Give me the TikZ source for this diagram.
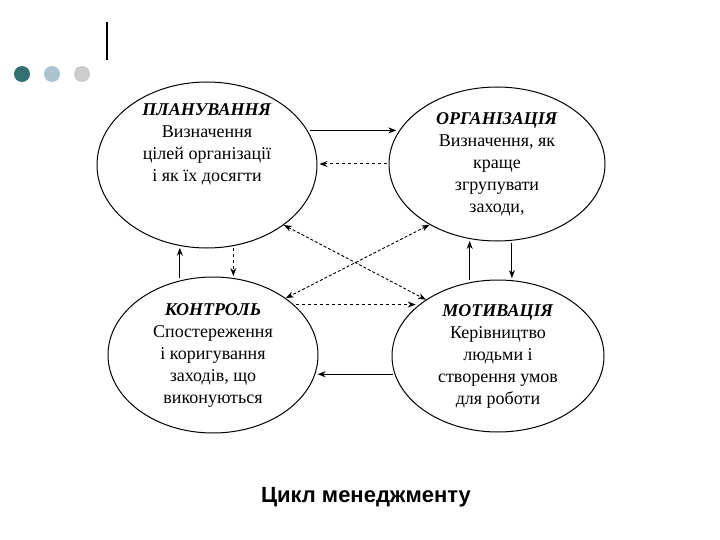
\documentclass[tikz,border=0pt]{standalone}
\usepackage{fontspec}
\setmainfont{Liberation Serif}
\newfontfamily\capfont{Liberation Sans}
\usetikzlibrary{shapes.geometric,arrows.meta}
\begin{document}
\begin{tikzpicture}[x=1pt,y=-1pt,
  circ/.style={draw,line width=1pt,ellipse,inner sep=0pt,align=center,font=\fontsize{18}{22}\selectfont},
  arr/.style={-{Stealth[length=8pt,width=6pt]},line width=1pt,shorten <=2pt,shorten >=2pt},
  dashedarr/.style={arr,dashed},
  dbl/.style={{Stealth[length=8pt,width=6pt]}-{Stealth[length=8pt,width=6pt]},line width=0.9pt,densely dashed}]
\useasboundingbox (0,0) rectangle (720,540);
\fill[white] (0,0) rectangle (720,540);
\fill[teal!60!black!80] (22,74) circle (8);
\fill[cyan!30!gray!60] (52,74) circle (8);
\fill[gray!40] (82,74) circle (8);
\draw[line width=2pt] (107,22) -- (107,60);
\node[circ,minimum width=220,minimum height=166] (p) at (207,165) {};
\node[align=center,font=\fontsize{18}{22}\selectfont,anchor=north] (pt) at (207,100) {\textbf{\textit{ПЛАНУВАННЯ}}\\Визначення\\цілей організації\\і як їх досягти};
\node[circ,minimum width=216,minimum height=154] (o) at (497,164) {\textbf{\textit{ОРГАНІЗАЦІЯ}}\\Визначення, як\\краще\\згрупувати\\заходи,};
\node[circ,minimum width=210,minimum height=156] (c) at (213,355) {\textbf{\textit{КОНТРОЛЬ}}\\Спостереження\\і коригування\\заходів, що\\виконуються};
\node[circ,minimum width=212,minimum height=152] (m) at (498,356) {\textbf{\textit{МОТИВАЦІЯ}}\\Керівництво\\людьми і\\створення умов\\для роботи};
\draw[arr] (p.19) -- (p.19 -| o.162);
\draw[dashedarr] (o.west) -- (o.west -| p.east);
\draw[dashedarr] (c.32) -- (c.32 -| m.148);
\draw[arr] (m.190) -- (m.190 -| c.-10);
\draw[arr] (c.114) -- (c.114 |- p.251);
\draw[dashedarr] (p.-72) -- (p.-72 |- c.75);
\draw[arr] (m.111) -- (m.111 |- o.250);
\draw[arr] (o.-79) -- (o.-79 |- m.80);
\draw[dbl] (p.-38) -- (m.142);
\draw[dbl] (o.222) -- (c.38);
\node[font=\capfont\bfseries\fontsize{22}{26}\selectfont] (t) at (366,497) {Цикл менеджменту};
\end{tikzpicture}
\end{document}
